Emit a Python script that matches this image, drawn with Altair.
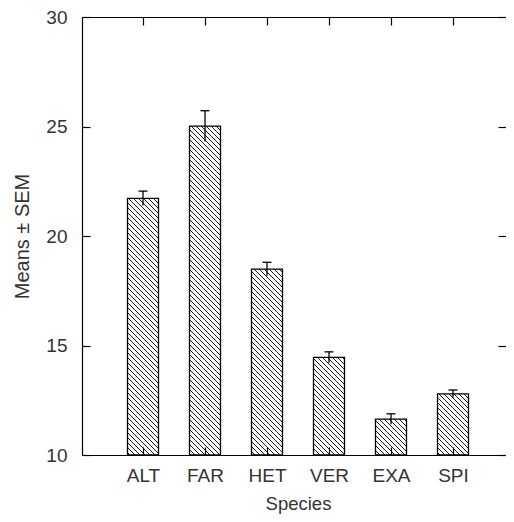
import json
import math
import altair as alt
import pandas as pd

# ---- data ----
species = ["ALT", "FAR", "HET", "VER", "EXA", "SPI"]
means = [21.72, 25.02, 18.49, 14.46, 11.64, 12.79]
sems = [0.33, 0.70, 0.31, 0.25, 0.24, 0.18]
y_ticks = [10, 15, 20, 25, 30]

# ---- layout ----
W, H = 424, 438
x_dom = [-0.984, 5.984 - 8 / 62]
y_dom = [10, 30]
bar_half = 0.25
px_x = W / (x_dom[1] - x_dom[0])
px_y = H / (y_dom[1] - y_dom[0])

df = pd.DataFrame({"species": species, "pos": list(range(len(species))),
                   "mean": means, "sem": sems})
df["lo"] = df["mean"] - df["sem"]
df["hi"] = df["mean"] + df["sem"]
df["x0"] = df["pos"] - bar_half
df["x1"] = df["pos"] + bar_half
df["base"] = y_dom[0]

# hatch segments ("\\" direction, 45 degrees on screen) clipped to each bar
spacing = 5.0
rows = []
for i, m in enumerate(means):
    left = (i - bar_half - x_dom[0]) * px_x
    bw = 2 * bar_half * px_x
    top = (y_dom[1] - m) * px_y
    bh = (m - y_dom[0]) * px_y
    kmin = top - (left + bw)
    kmax = top + bh - left
    k = math.ceil(kmin / spacing) * spacing
    while k <= kmax:
        u0 = max(left, top - k)
        u1 = min(left + bw, top + bh - k)
        if u1 > u0 + 0.5:
            rows.append({
                "hx": x_dom[0] + u0 / px_x,
                "hx2": x_dom[0] + u1 / px_x,
                "hy": y_dom[1] - (u0 + k) / px_y,
                "hy2": y_dom[1] - (u1 + k) / px_y,
            })
        k += spacing
hatch = pd.DataFrame(rows)

xs = alt.Scale(domain=x_dom, nice=False, zero=False)
ys = alt.Scale(domain=y_dom, nice=False, zero=False)

FONT = "Liberation Sans"
TXT = "#333333"
LW = 1.2

tick_common = dict(offset=-8, tickSize=8, tickColor="black", tickWidth=LW,
                   domain=False, grid=False)
frame_common = dict(ticks=False, labels=False, title=None, grid=False,
                    domain=True, domainColor="black", domainWidth=LW)

left_axis = alt.Axis(orient="left", values=y_ticks, **tick_common,
                     labelPadding=15, labelFontSize=19, labelFlush=False,
                     title="Means ± SEM", titleFontSize=20, titleX=-68, titleY=219,
                     titleAngle=270, titleAlign="center", titleBaseline="middle")
bottom_axis = alt.Axis(orient="bottom", values=list(range(len(species))),
                       labelExpr=f"{json.dumps(species)}[datum.value]",
                       **tick_common, labelPadding=11, labelFontSize=19,
                       labelFlush=False, labelOverlap=False,
                       title="Species", titleFontSize=18.5, titleX=216, titleY=62,
                       titleBaseline="alphabetic", titleAlign="center", zindex=1)
right_axis = alt.Axis(orient="right", values=y_ticks, **tick_common,
                      labels=False, title=None)
top_axis = alt.Axis(orient="top", values=list(range(len(species))),
                    **tick_common, labels=False, title=None)
frame_left = alt.Axis(orient="left", **frame_common)
frame_bottom = alt.Axis(orient="bottom", zindex=1, **frame_common)
frame_top = alt.Axis(orient="top", **frame_common)

base = alt.Chart(df)

bars_fill = base.mark_bar(fill="white", strokeWidth=0).encode(
    x=alt.X("x0:Q", scale=xs, axis=bottom_axis),
    x2="x1:Q",
    y=alt.Y("mean:Q", scale=ys, axis=left_axis),
    y2="base:Q",
)

hatch_lines = alt.Chart(hatch).mark_rule(color="black", strokeWidth=0.9).encode(
    x=alt.X("hx:Q", scale=xs, axis=frame_bottom),
    x2="hx2:Q",
    y=alt.Y("hy:Q", scale=ys, axis=frame_left),
    y2="hy2:Q",
)

bars_outline = base.mark_bar(fillOpacity=0, stroke="black", strokeWidth=1.3).encode(
    x=alt.X("x0:Q", scale=xs, axis=frame_top),
    x2="x1:Q",
    y=alt.Y("mean:Q", scale=ys, axis=None),
    y2="base:Q",
)

err = base.mark_rule(color="black", strokeWidth=1.3).encode(
    x=alt.X("pos:Q", scale=xs, axis=None),
    y=alt.Y("lo:Q", scale=ys, axis=None),
    y2="hi:Q",
)

caps = base.mark_tick(orient="horizontal", size=9, thickness=1.3, color="black",
                      opacity=1).encode(
    x=alt.X("pos:Q", scale=xs, axis=top_axis),
    y=alt.Y("hi:Q", scale=ys, axis=right_axis),
)

chart = alt.layer(bars_fill, hatch_lines, bars_outline, err, caps).resolve_axis(
    x="independent", y="independent"
).properties(
    width=W, height=H,
    autosize=alt.AutoSizeParams(type="none"),
    padding={"left": 74, "top": 9, "right": 0, "bottom": 59},
).configure_view(
    strokeWidth=0
).configure_axis(
    labelFont=FONT, titleFont=FONT, labelColor=TXT, titleColor=TXT,
    titleFontWeight="normal"
)

chart.save("out.html", embed_options={"renderer": "svg", "actions": False})
